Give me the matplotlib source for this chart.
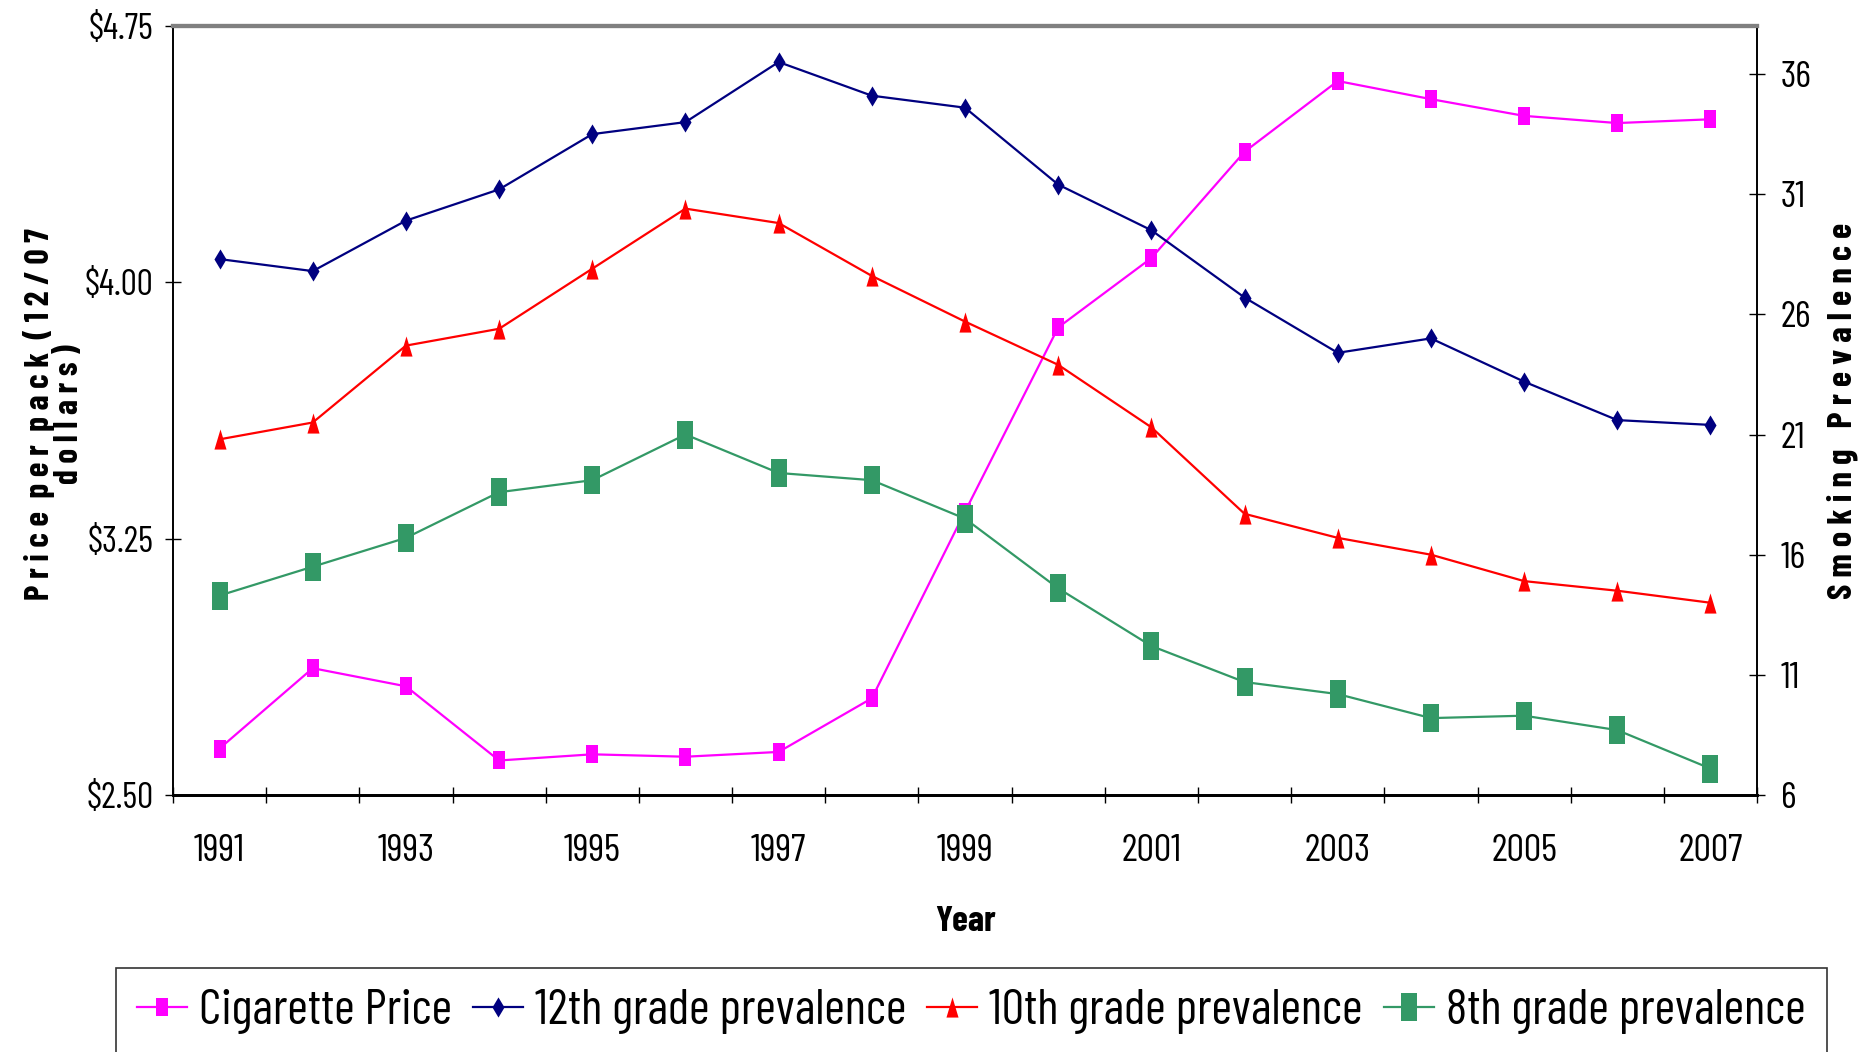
import matplotlib
matplotlib.use("Agg")
import matplotlib.pyplot as plt
from matplotlib import font_manager
from matplotlib.ticker import FixedLocator, FuncFormatter

years = list(range(1991, 2008))
price = [2.636, 2.871, 2.818, 2.601, 2.619, 2.612, 2.626, 2.783, 3.329,
         3.868, 4.071, 4.382, 4.589, 4.536, 4.487, 4.466, 4.477]
grade12 = [28.3, 27.8, 29.9, 31.2, 33.5, 34.0, 36.5, 35.1, 34.6,
           31.4, 29.5, 26.7, 24.4, 25.0, 23.2, 21.6, 21.4]
grade10 = [20.8, 21.5, 24.7, 25.4, 27.9, 30.4, 29.8, 27.6, 25.7,
           23.9, 21.3, 17.7, 16.7, 16.0, 14.9, 14.5, 14.0]
grade8 = [14.3, 15.5, 16.7, 18.6, 19.1, 21.0, 19.4, 19.1, 17.5,
          14.6, 12.2, 10.7, 10.2, 9.2, 9.3, 8.7, 7.1]
price_ticks = [2.50, 3.25, 4.00, 4.75]
prev_ticks = [6, 11, 16, 21, 26, 31, 36]
year_labels = list(range(1991, 2008, 2))

# the original uses a squeezed Arial look, so pick a narrow face if present
names = {f.name for f in font_manager.fontManager.ttflist}
FONT = "DejaVu Sans"
for cand in ["Liberation Sans Narrow", "Arial Narrow", "Barlow Condensed",
             "Fira Sans Condensed"]:
    if cand in names:
        FONT = cand
        break
plt.rcParams["font.family"] = [FONT, "DejaVu Sans"]
if FONT == "DejaVu Sans":
    plt.rcParams["font.stretch"] = "condensed"


def box(w, h):
    """tall rectangle marker, w/h aspect"""
    return [(-w, -h), (w, -h), (w, h), (-w, h), (-w, -h)]


def diamond(w, h):
    return [(0, -h), (w, 0), (0, h), (-w, 0), (0, -h)]


def tri(w, h):
    return [(-w, -h), (w, -h), (0, h), (-w, -h)]


def spaced(text, gap="  "):
    """letter-spaced label like the original"""
    return gap.join(" ".join(word) for word in text.split(" "))


fig = plt.figure(figsize=(18.74, 10.52), dpi=100)
ax = fig.add_axes([0.0923, 0.2443, 0.8453, 0.7310])
ax2 = ax.twinx()

ax.plot(years, price, color="#FF00FF", lw=1.6, marker=box(0.35, 0.5),
        markersize=12.5, markeredgewidth=0, label="Cigarette Price",
        zorder=3)
ax2.plot(years, grade12, color="#000080", lw=1.6, marker=diamond(0.3, 0.5),
         markersize=14.5, markeredgewidth=0, label="12th grade prevalence")
ax2.plot(years, grade10, color="#FF0000", lw=1.6, marker=tri(0.3, 0.5),
         markersize=14.5, markeredgewidth=0, label="10th grade prevalence")
ax2.plot(years, grade8, color="#339966", lw=1.6, marker=box(0.31, 0.5),
         markersize=19.5, markeredgewidth=0, label="8th grade prevalence")

ax.set_xlim(1990.5, 2007.5)
ax.set_ylim(2.50, 4.75)
ax2.set_ylim(6, 38)

ax.xaxis.set_major_locator(FixedLocator(year_labels))
ax.xaxis.set_minor_locator(FixedLocator([y + 0.5 for y in range(1990, 2008)]))
ax.tick_params(axis="x", which="major", length=0, pad=28, labelsize=28)
ax.tick_params(axis="x", which="minor", length=12, direction="inout",
               width=1)
ax.set_yticks(price_ticks)
ax.yaxis.set_major_formatter(FuncFormatter(lambda v, p: f"${v:.2f}"))
ax.tick_params(axis="y", length=12, direction="inout", width=1,
               labelsize=26, pad=8)
ax2.set_yticks(prev_ticks)
ax2.tick_params(axis="y", length=12, direction="inout", width=1,
                labelsize=27, pad=11)

for a in (ax, ax2):
    a.spines["top"].set_color("#808080")
    a.spines["top"].set_linewidth(3)
    a.spines["bottom"].set_linewidth(2)
    a.spines["left"].set_linewidth(1.2)
    a.spines["right"].set_linewidth(1.2)

ax.set_xlabel("Year", fontsize=26, fontweight="bold", labelpad=27)
ax.set_ylabel(spaced("Price per pack (12/07") + "\n" + spaced("dollars)"),
              fontsize=24, fontweight="bold", linespacing=0.95)
ax.yaxis.set_label_coords(-0.056, 0.495)
ax2.set_ylabel(spaced("Smoking Prevalence", "   "), fontsize=25,
               fontweight="bold", rotation=90, labelpad=11)

handles = ax.get_lines() + ax2.get_lines()
leg = fig.legend(handles, [h.get_label() for h in handles], ncol=4,
                 loc="upper left", bbox_to_anchor=(116 / 1874, 1 - 968 / 1052),
                 fontsize=36, frameon=True, fancybox=False, handlelength=1.0,
                 handletextpad=0.24, columnspacing=0.42, borderaxespad=0,
                 borderpad=0.42)
leg.get_frame().set_edgecolor("black")
leg.get_frame().set_linewidth(1.2)

fig.savefig("out.png", dpi=100)
